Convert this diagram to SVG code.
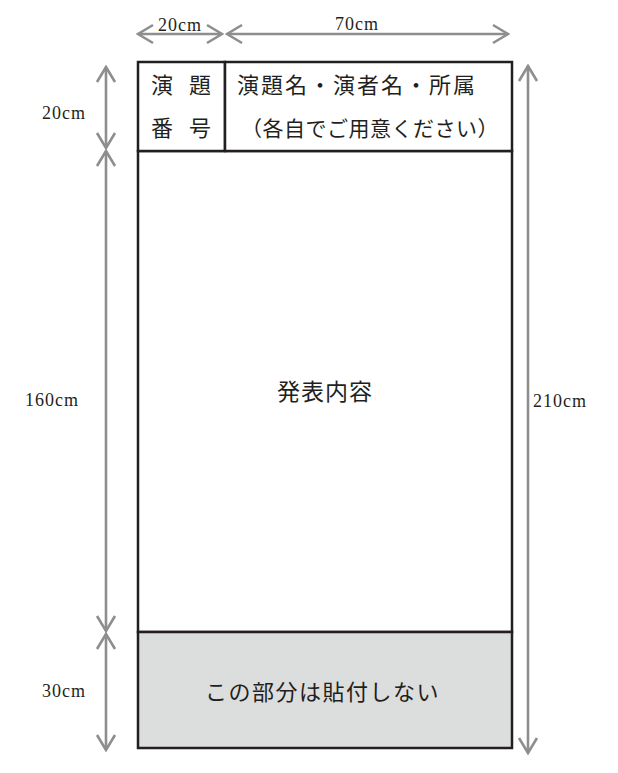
<svg xmlns="http://www.w3.org/2000/svg" width="618" height="773" viewBox="0 0 618 773">
<style>
.box{fill:#ffffff;stroke:#231f20;stroke-width:2.5}
.gray{fill:#dcdddd;stroke:#231f20;stroke-width:2.5}
.jp{font-family:"Noto Sans CJK JP","Noto Sans CJK SC",sans-serif;font-size:22px;fill:#231f20}
.dim{font-family:"Liberation Serif",serif;font-size:18px;fill:#231f20;letter-spacing:1px}
.arr{stroke:#8e8e8e;stroke-width:2.6;fill:none;marker-start:url(#ah);marker-end:url(#ah)}
</style>
<defs>
<marker id="ah" markerUnits="userSpaceOnUse" viewBox="-18 -11 20 22" refX="0" refY="0" markerWidth="20" markerHeight="22" orient="auto-start-reverse">
<path d="M-15,-9 L0,0 L-15,9" fill="none" stroke="#8e8e8e" stroke-width="2.6"/>
</marker>
</defs>
<rect x="0" y="0" width="618" height="773" fill="#ffffff"/>
<g id="content">
<rect class="box" x="138" y="151" width="374" height="481"/>
<text class="jp" x="277" y="399.5" font-size="23" style="font-size:23px;letter-spacing:1px">発表内容</text>
</g>
<g id="header-number">
<rect class="box" x="138" y="62" width="87" height="89"/>
<text class="jp" x="151" y="93" style="letter-spacing:16px">演題</text>
<text class="jp" x="151" y="136" style="letter-spacing:16px">番号</text>
</g>
<g id="header-title">
<rect class="box" x="225" y="62" width="287" height="89"/>
<text class="jp" x="237" y="93" style="letter-spacing:2px">演題名・演者名・所属</text>
<text class="jp" x="241" y="136" style="font-size:21px;letter-spacing:0.5px">（各自でご用意ください）</text>
</g>
<g id="excluded">
<rect class="gray" x="138" y="632" width="374" height="116"/>
<text class="jp" x="205" y="699.5" style="letter-spacing:1.5px">この部分は貼付しない</text>
</g>
<g id="connectors">
<line class="arr" x1="138" y1="34" x2="222" y2="34"/>
<line class="arr" x1="227" y1="34" x2="508" y2="34"/>
<line class="arr" x1="106" y1="67" x2="106" y2="148"/>
<line class="arr" x1="106" y1="151" x2="106" y2="631"/>
<line class="arr" x1="106" y1="634" x2="106" y2="750"/>
<line class="arr" x1="528" y1="66" x2="528" y2="753"/>
</g>
<g id="dimension-labels">
<text class="dim" x="180" y="31" text-anchor="middle">20cm</text>
<text class="dim" x="357" y="30" text-anchor="middle">70cm</text>
<text class="dim" x="42" y="119">20cm</text>
<text class="dim" x="25" y="406">160cm</text>
<text class="dim" x="42" y="697">30cm</text>
<text class="dim" x="533" y="407">210cm</text>
</g>
</svg>
